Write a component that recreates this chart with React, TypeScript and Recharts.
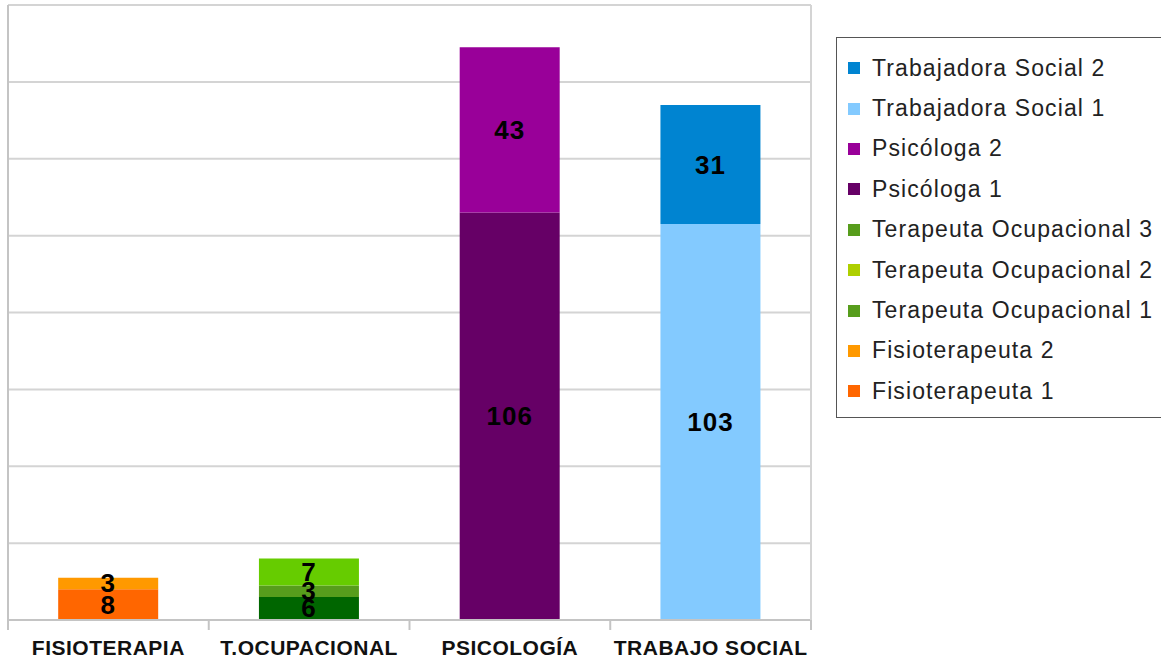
import { BarChart, Bar, XAxis, YAxis, CartesianGrid, LabelList } from 'recharts';

const categories = ['FISIOTERAPIA', 'T.OCUPACIONAL', 'PSICOLOGÍA', 'TRABAJO SOCIAL'];

// one value per category, null where the series does not apply
const fisio1 = [8, null, null, null];
const fisio2 = [3, null, null, null];
const terapia1 = [null, 6, null, null];
const terapia2 = [null, 3, null, null];
const terapia3 = [null, 7, null, null];
const psico1 = [null, null, 106, null];
const psico2 = [null, null, 43, null];
const social1 = [null, null, null, 103];
const social2 = [null, null, null, 31];

const yTicks = [0, 20, 40, 60, 80, 100, 120, 140, 160];

// stack order bottom -> top
const series = [
  { key: 'fisio1', name: 'Fisioterapeuta 1', values: fisio1, fill: '#ff6600', legend: '#ff6600' },
  { key: 'fisio2', name: 'Fisioterapeuta 2', values: fisio2, fill: '#ff9900', legend: '#ff9900' },
  { key: 'terapia1', name: 'Terapeuta Ocupacional 1', values: terapia1, fill: '#006600', legend: '#579d1c' },
  { key: 'terapia2', name: 'Terapeuta Ocupacional 2', values: terapia2, fill: '#579d1c', legend: '#aecf00' },
  { key: 'terapia3', name: 'Terapeuta Ocupacional 3', values: terapia3, fill: '#66cc00', legend: '#579d1c' },
  { key: 'psico1', name: 'Psicóloga 1', values: psico1, fill: '#660066', legend: '#660066' },
  { key: 'psico2', name: 'Psicóloga 2', values: psico2, fill: '#990099', legend: '#990099' },
  { key: 'social1', name: 'Trabajadora Social 1', values: social1, fill: '#83caff', legend: '#83caff' },
  { key: 'social2', name: 'Trabajadora Social 2', values: social2, fill: '#0084d1', legend: '#0084d1' },
];

const data = categories.map((name, i) => {
  const row: Record<string, any> = { name };
  series.forEach((s) => {
    row[s.key] = s.values[i];
  });
  return row;
});

const FONT = '"Liberation Sans", Arial, sans-serif';

const SegmentLabel = (props: any) => {
  const { x, y, width, height, value } = props;
  if (value == null || value === 0) return null;
  return (
    <text
      x={x + width / 2}
      y={y + height / 2}
      textAnchor="middle"
      dominantBaseline="central"
      fontFamily={FONT}
      fontWeight="bold"
      fontSize={26}
      letterSpacing={1}
      fill="#000"
    >
      {value}
    </text>
  );
};

const CategoryTick = (props: any) => {
  const { x, y, payload, index, visibleTicksCount } = props;
  const half = payload.offset || 100;
  const axisY = y - 8;
  return (
    <g>
      <line x1={x - half} y1={axisY} x2={x - half} y2={axisY + 10} stroke="#c4c4c4" strokeWidth={2} />
      {index === visibleTicksCount - 1 && (
        <line x1={x + half} y1={axisY} x2={x + half} y2={axisY + 10} stroke="#c4c4c4" strokeWidth={2} />
      )}
      <text
        x={x}
        y={axisY + 35}
        textAnchor="middle"
        fontFamily={FONT}
        fontWeight="bold"
        fontSize={21}
        letterSpacing={0.5}
        fill="#111"
      >
        {payload.value}
      </text>
    </g>
  );
};

const NoTick = () => <g />;

export default function App() {
  const legendItems = [...series].reverse();
  return (
    <div style={{ position: 'absolute', left: 0, top: 0, width: 1161, height: 664, overflow: 'hidden', background: '#fff' }}>
      <BarChart
        width={1161}
        height={664}
        data={data}
        margin={{ top: 5, right: 349, bottom: 0, left: 7 }}
        barCategoryGap="25%"
      >
        <CartesianGrid vertical={false} stroke="#d4d4d4" strokeWidth={2} />
        <XAxis
          dataKey="name"
          height={44}
          axisLine={{ stroke: '#c4c4c4', strokeWidth: 2 }}
          tickLine={false}
          tick={<CategoryTick />}
          interval={0}
        />
        <YAxis
          width={1}
          domain={[0, 160]}
          ticks={yTicks}
          tick={<NoTick />}
          tickLine={false}
          axisLine={{ stroke: '#c4c4c4', strokeWidth: 2 }}
        />
        <YAxis
          yAxisId="right"
          orientation="right"
          width={1}
          domain={[0, 160]}
          ticks={yTicks}
          tick={<NoTick />}
          tickLine={false}
          axisLine={{ stroke: '#d4d4d4', strokeWidth: 2 }}
        />
        {series.map((s) => (
          <Bar key={s.key} dataKey={s.key} name={s.name} stackId="a" fill={s.fill} isAnimationActive={false}>
            <LabelList dataKey={s.key} content={<SegmentLabel />} />
          </Bar>
        ))}
      </BarChart>
      <div
        style={{
          position: 'absolute',
          left: 836,
          top: 37,
          width: 340,
          height: 381,
          border: '1px solid #555',
          background: '#fff',
          boxSizing: 'border-box',
          fontFamily: FONT,
          fontSize: 23,
          letterSpacing: 1.1,
          color: '#222',
          paddingTop: 10,
        }}
      >
        {legendItems.map((s) => (
          <div key={s.key} style={{ display: 'flex', alignItems: 'center', height: 40.4, paddingLeft: 11 }}>
            <span style={{ width: 12, height: 12, background: s.legend, display: 'inline-block', marginRight: 12, flexShrink: 0 }} />
            <span style={{ whiteSpace: 'nowrap' }}>{s.name}</span>
          </div>
        ))}
      </div>
    </div>
  );
}
